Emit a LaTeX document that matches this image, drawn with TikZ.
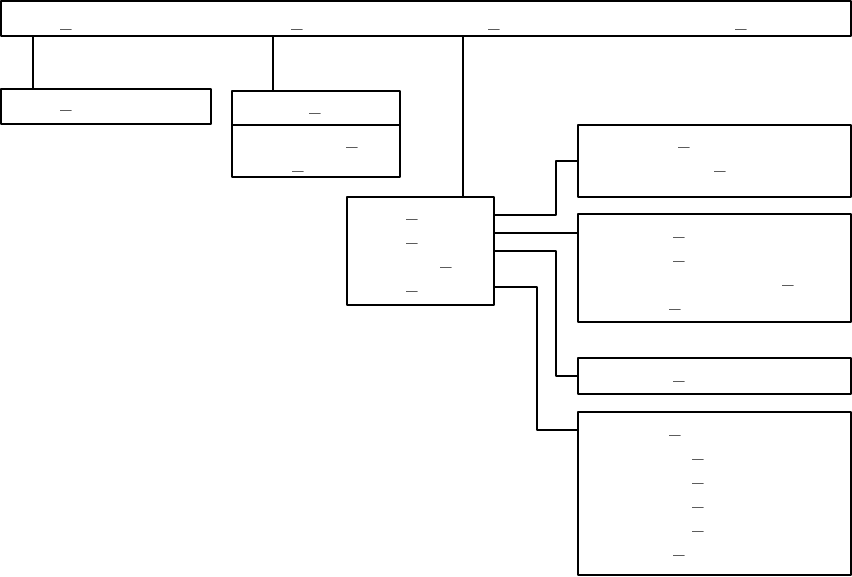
\documentclass[tikz,border=0pt]{standalone}
\begin{document}
\begin{tikzpicture}[x=0.75pt,y=-0.75pt,line join=round,line cap=round,
  box/.style={draw,line width=1.2pt,inner sep=0pt},
  link/.style={line width=0.8pt},
  us/.style={anchor=base,inner sep=0pt,font=\fontsize{10}{12}\selectfont\bfseries}]
\useasboundingbox (0,0) rectangle (852,576);
% boxes
\node[box,minimum width=637.5pt,minimum height=26.25pt] (top) at (426,18.5) {};
\node[box,minimum width=157.5pt,minimum height=26.25pt] (left) at (106,106.5) {};
\node[box,minimum width=126pt,minimum height=25.5pt] (midtop) at (316,108) {};
\node[box,minimum width=126pt,minimum height=39pt] (midbot) at (316,151) {};
\node[box,minimum width=110.25pt,minimum height=81pt] (hub) at (420.5,251) {};
\node[box,minimum width=204.75pt,minimum height=54pt] (boxA) at (714.5,161) {};
\node[box,minimum width=204.75pt,minimum height=81pt] (boxB) at (714.5,268) {};
\node[box,minimum width=204.75pt,minimum height=27pt] (boxC) at (714.5,376) {};
\node[box,minimum width=204.75pt,minimum height=122.25pt] (boxD) at (714.5,493.5) {};
% connectors
\draw[link] (top.south -| 33,0) -- (left.north -| 33,0);
\draw[link] (top.south -| 273,0) -- (midtop.north -| 273,0);
\draw[link] (top.south -| 463,0) -- (hub.north -| 463,0);
\draw[link] (hub.east |- 0,215) -- (556,215) |- (boxA.west);
\draw[link] (hub.east |- 0,233) -- (boxB.west |- 0,233);
\draw[link] (hub.east |- 0,251) -- (556,251) |- (boxC.west);
\draw[link] (hub.east |- 0,287) -- (537,287) |- (boxD.west |- 0,430);
% texts
\foreach \x/\y [count=\i] in {66/30,297/30,494/30,741/30,66/111,315/114,352/148,298/172,
  412/220,412/244,446/268,412/292,684/148,720/172,679/238,679/262,788/286,675/310,
  679/382,675/436,698/460,698/484,698/508,698/532,679/556}
  \node[us] (u\i) at (\x,\y-2) {\_};
\end{tikzpicture}
\end{document}
